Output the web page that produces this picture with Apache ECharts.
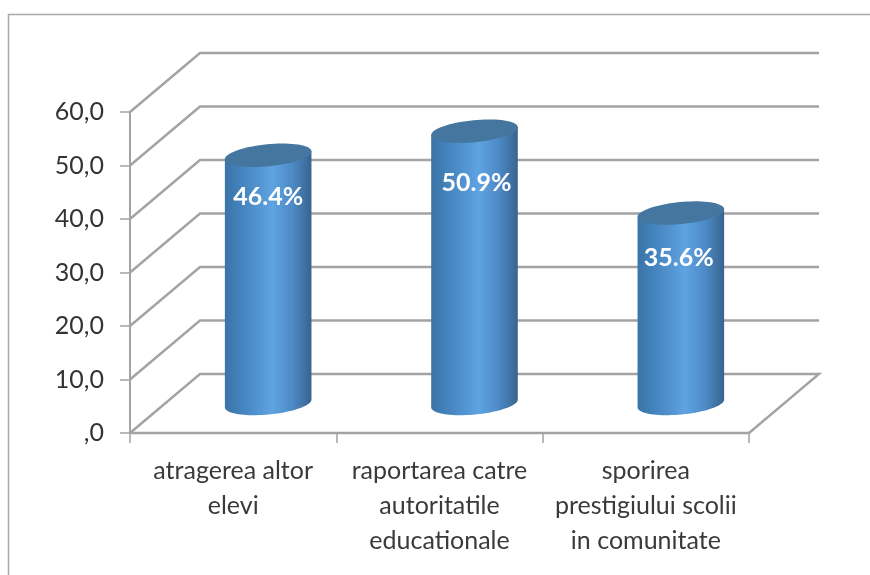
<!DOCTYPE html>
<html>
<head>
<meta charset="utf-8">
<style>html,body{margin:0;padding:0;background:#fff}#c{width:870px;height:575px}</style>
<script src="https://cdn.jsdelivr.net/npm/echarts@6/dist/echarts.min.js"></script>
</head>
<body>
<div id="c"></div>
<script>
const categories = ['atragerea altor\nelevi', 'raportarea catre\nautoritatile\neducationale', 'sporirea\nprestigiului scolii\nin comunitate'];
const values = [46.4, 50.9, 35.6];
const valueLabels = ['46.4%', '50.9%', '35.6%'];
const yTicks = [0, 10, 20, 30, 40, 50, 60];
const yTickLabels = [',0', '10,0', '20,0', '30,0', '40,0', '50,0', '60,0'];

const FONT = 'Lato, "Open Sans", sans-serif';
const GRID = '#a3a3a3';
const DEPTH_X = 70, DEPTH_Y = 59;
const RX = 43.5, RY = 11, TILT = -5.5 * Math.PI / 180;
const LABEL_DROP = [42, 52, 45];
const LABEL_SHIFT = [0, 2, -2];

function ellipsePoint(cx, cy, t) {
  const ex = RX * Math.cos(t), ey = RY * Math.sin(t);
  return [cx + ex * Math.cos(TILT) - ey * Math.sin(TILT), cy + ex * Math.sin(TILT) + ey * Math.cos(TILT)];
}
function bodyFill() {
  return new echarts.graphic.LinearGradient(0, 0, 1, 0, [
    { offset: 0, color: '#3c74a6' },
    { offset: 0.12, color: '#3f7db5' },
    { offset: 0.55, color: '#5fa3e2' },
    { offset: 0.78, color: '#4d8ac6' },
    { offset: 1, color: '#38648e' }
  ]);
}
function renderWall(params, api) {
  const rect = params.coordSys;
  const v = api.value(1);
  const y = api.coord([0, v])[1];
  const left = rect.x, right = rect.x + rect.width;
  const pts = [[left, y], [left + DEPTH_X, y - DEPTH_Y], [right + DEPTH_X, y - DEPTH_Y]];
  if (v === 0) pts.push([right, y]);
  return {
    type: 'polyline',
    shape: { points: pts },
    style: { fill: 'none', stroke: GRID, lineWidth: 2.4 },
    silent: true
  };
}
function renderCylinder(params, api) {
  const i = api.value(0);
  const top = api.coord([i, api.value(1)]);
  const base = api.coord([i, 0]);
  const cx = top[0] + DEPTH_X / 2;
  const topY = top[1] - DEPTH_Y / 2;
  const baseY = base[1] - DEPTH_Y / 2;
  const body = [ellipsePoint(cx, topY, Math.PI)];
  for (let k = 0; k <= 40; k++) body.push(ellipsePoint(cx, baseY, Math.PI - Math.PI * k / 40));
  body.push(ellipsePoint(cx, topY, 0));
  const cap = [];
  for (let k = 0; k < 72; k++) cap.push(ellipsePoint(cx, topY, 2 * Math.PI * k / 72));
  return {
    type: 'group',
    children: [
      { type: 'polygon', shape: { points: body }, style: { fill: bodyFill() } },
      { type: 'polygon', shape: { points: cap }, style: { fill: '#44769f' } },
      {
        type: 'text',
        x: cx + LABEL_SHIFT[i],
        y: topY + LABEL_DROP[params.dataIndex],
        style: {
          text: valueLabels[params.dataIndex],
          fill: '#ffffff',
          font: 'bold 25px ' + FONT,
          align: 'center',
          verticalAlign: 'middle'
        }
      }
    ]
  };
}

const chart = echarts.init(document.getElementById('c'), null, { renderer: 'canvas' });
chart.setOption({
  animation: false,
  backgroundColor: '#ffffff',
  graphic: [{
    type: 'polyline',
    shape: { points: [[8.5, 580], [8.5, 14.5], [875, 14.5]] },
    style: { fill: 'none', stroke: '#a8a8a8', lineWidth: 1.5 },
    silent: true
  }],
  grid: { left: 130, top: 112, width: 619, height: 321, containLabel: false },
  xAxis: {
    type: 'category',
    data: categories,
    boundaryGap: true,
    axisLine: { show: true, lineStyle: { color: GRID, width: 2.4 } },
    axisTick: { show: true, alignWithLabel: false, length: 10, lineStyle: { color: GRID, width: 1.5 } },
    axisLabel: { color: '#3a3a3a', fontFamily: FONT, fontSize: 25, lineHeight: 35, margin: 20, interval: 0 }
  },
  yAxis: {
    type: 'value',
    min: 0,
    max: 60,
    interval: 10,
    axisLine: { show: true, lineStyle: { color: GRID, width: 2 } },
    axisTick: { show: true, length: 10, lineStyle: { color: GRID, width: 1.5 } },
    axisLabel: {
      color: '#333333', fontFamily: FONT, fontSize: 25, margin: 26,
      formatter: function (v) { return yTickLabels[yTicks.indexOf(v)]; }
    },
    splitLine: { show: false }
  },
  series: [
    {
      type: 'custom',
      coordinateSystem: 'cartesian2d',
      renderItem: renderWall,
      data: yTicks.map(function (t) { return [0, t]; }),
      clip: false,
      silent: true,
      z: 1
    },
    {
      type: 'custom',
      coordinateSystem: 'cartesian2d',
      renderItem: renderCylinder,
      data: values.map(function (v, i) { return [i, v]; }),
      clip: false,
      silent: true,
      z: 5
    }
  ]
});
</script>
</body>
</html>
